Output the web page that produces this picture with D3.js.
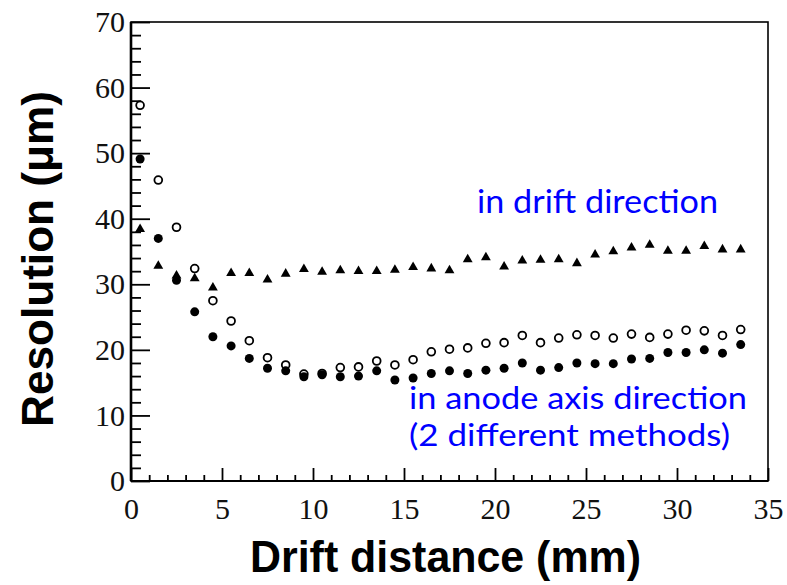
<!DOCTYPE html>
<html>
<head>
<meta charset="utf-8">
<script src="https://cdn.jsdelivr.net/npm/d3@7"></script>
<style>
  body { margin: 0; background: #fff; }
  svg { display: block; }
</style>
</head>
<body>
<svg id="chart" width="787" height="585"></svg>
<script>
// Drift distance bins (mm)
const distance = [0.5, 1.5, 2.5, 3.5, 4.5, 5.5, 6.5, 7.5, 8.5, 9.5, 10.5, 11.5,
  12.5, 13.5, 14.5, 15.5, 16.5, 17.5, 18.5, 19.5, 20.5, 21.5, 22.5, 23.5,
  24.5, 25.5, 26.5, 27.5, 28.5, 29.5, 30.5, 31.5, 32.5, 33.5];

// Resolution in drift direction (µm), triangles
const driftRes = [38.4, 32.8, 31.3, 30.9, 29.5, 31.7, 31.7, 30.7, 31.6, 32.3, 31.9, 32.1,
  32.0, 32.0, 32.2, 32.6, 32.4, 32.1, 33.8, 34.1, 32.7, 33.6, 33.7, 33.8,
  33.2, 34.5, 35.0, 35.6, 36.0, 35.1, 35.1, 35.8, 35.3, 35.3];

// Resolution in anode axis direction, method A (open circles)
const anodeResOpen = [57.3, 45.9, 38.7, 32.4, 27.5, 24.4, 21.4, 18.8, 17.7, 16.3, 16.4, 17.3,
  17.4, 18.3, 17.7, 18.5, 19.7, 20.1, 20.3, 21.0, 21.1, 22.2, 21.1, 21.8,
  22.3, 22.2, 21.8, 22.4, 21.9, 22.4, 23.0, 22.9, 22.2, 23.1];

// Resolution in anode axis direction, method B (filled circles)
const anodeResFilled = [49.1, 37.0, 30.6, 25.8, 22.0, 20.6, 18.7, 17.2, 16.8, 15.9, 16.2, 15.9,
  16.0, 16.8, 15.4, 15.7, 16.4, 16.8, 16.4, 16.9, 17.2, 18.0, 16.9, 17.3,
  18.0, 17.9, 17.9, 18.6, 18.7, 19.6, 19.6, 20.0, 19.5, 20.8];

const xTicks = [0, 5, 10, 15, 20, 25, 30, 35];
const yTicks = [0, 10, 20, 30, 40, 50, 60, 70];
const xTitle = "Drift distance (mm)";
const yTitle = "Resolution (\u03bcm)";
const driftNote = "in drift direction";
const anodeNote = ["in anode axis direction", "(2 different methods)"];

const svg = d3.select("#chart");
svg.append("rect").attr("width", 787).attr("height", 585).attr("fill", "#fff");

const x = d3.scaleLinear().domain([0, 35]).range([131, 768]);
const y = d3.scaleLinear().domain([0, 70]).range([481, 22]);

const tickFont = "'Liberation Serif', 'Times New Roman', serif";
const titleFont = "'Liberation Sans', Arial, sans-serif";
const noteFont = "Lato, 'Open Sans', sans-serif";

// frame
svg.append("rect")
  .attr("x", x(0)).attr("y", y(70))
  .attr("width", x(35) - x(0)).attr("height", y(0) - y(70))
  .attr("fill", "none").attr("stroke", "#000").attr("stroke-width", 1.6);

// minor ticks (no labels)
const xMinor = d3.range(0, 36).filter(v => v % 5 !== 0);
const yMinor = d3.range(0, 71, 2).filter(v => v % 10 !== 0);

const gxMinor = svg.append("g").attr("transform", `translate(0,${y(0)})`)
  .call(d3.axisBottom(x).tickValues(xMinor).tickSize(-6).tickFormat(""));
const gyMinor = svg.append("g").attr("transform", `translate(${x(0)},0)`)
  .call(d3.axisLeft(y).tickValues(yMinor).tickSize(-10).tickFormat(""));

// major ticks with labels
const gx = svg.append("g").attr("transform", `translate(0,${y(0)})`)
  .call(d3.axisBottom(x).tickValues(xTicks).tickSize(-13).tickPadding(17));
const gy = svg.append("g").attr("transform", `translate(${x(0)},0)`)
  .call(d3.axisLeft(y).tickValues(yTicks).tickSize(-19).tickPadding(6));

[gxMinor, gyMinor, gx, gy].forEach(g => {
  g.select(".domain").remove();
  g.selectAll(".tick line").attr("stroke", "#000").attr("stroke-width", 1.8);
});
[gx, gy].forEach(g => {
  g.selectAll(".tick text")
    .attr("fill", "#111")
    .style("font-family", tickFont)
    .style("font-size", "30px");
});

// heavier left and bottom axis lines
svg.append("line").attr("x1", x(0)).attr("x2", x(0)).attr("y1", y(70)).attr("y2", y(0))
  .attr("stroke", "#000").attr("stroke-width", 2.6);
svg.append("line").attr("x1", x(0)).attr("x2", x(35)).attr("y1", y(0)).attr("y2", y(0))
  .attr("stroke", "#000").attr("stroke-width", 2.2);

// axis titles
svg.append("text")
  .attr("x", (x(0) + x(35)) / 2 - 4).attr("y", 572)
  .attr("text-anchor", "middle")
  .style("font-family", titleFont).style("font-weight", "bold").style("font-size", "44px")
  .attr("textLength", 391).attr("lengthAdjust", "spacingAndGlyphs")
  .text(xTitle);

svg.append("text")
  .attr("transform", "translate(53,259) rotate(-90)")
  .attr("text-anchor", "middle")
  .style("font-family", titleFont).style("font-weight", "bold").style("font-size", "44px")
  .attr("textLength", 336).attr("lengthAdjust", "spacingAndGlyphs")
  .text(yTitle);

// data markers
const filled = distance.map((d, i) => ({ d, v: anodeResFilled[i] }));
const open = distance.map((d, i) => ({ d, v: anodeResOpen[i] }));
const drift = distance.map((d, i) => ({ d, v: driftRes[i] }));

svg.append("g").selectAll("circle").data(filled).join("circle")
  .attr("cx", p => x(p.d)).attr("cy", p => y(p.v)).attr("r", 4.5)
  .attr("fill", "#000");

svg.append("g").selectAll("circle").data(open).join("circle")
  .attr("cx", p => x(p.d)).attr("cy", p => y(p.v)).attr("r", 3.9)
  .attr("fill", "none").attr("stroke", "#000").attr("stroke-width", 1.8);

const tri = d3.symbol().type(d3.symbolTriangle).size(42);
svg.append("g").selectAll("path").data(drift).join("path")
  .attr("transform", p => `translate(${x(p.d)},${y(p.v)})`)
  .attr("d", tri).attr("fill", "#000");

// annotations
svg.append("text")
  .attr("x", 477).attr("y", 213)
  .style("font-family", noteFont).style("font-size", "33px").attr("fill", "#0000ff")
  .attr("textLength", 241).attr("lengthAdjust", "spacingAndGlyphs")
  .text(driftNote);

svg.append("text")
  .attr("x", 409).attr("y", 409)
  .style("font-family", noteFont).style("font-size", "31px").attr("fill", "#0000ff")
  .attr("textLength", 338).attr("lengthAdjust", "spacingAndGlyphs")
  .text(anodeNote[0]);

svg.append("text")
  .attr("x", 409).attr("y", 446)
  .style("font-family", noteFont).style("font-size", "31px").attr("fill", "#0000ff")
  .attr("textLength", 321).attr("lengthAdjust", "spacingAndGlyphs")
  .text(anodeNote[1]);
</script>
</body>
</html>
